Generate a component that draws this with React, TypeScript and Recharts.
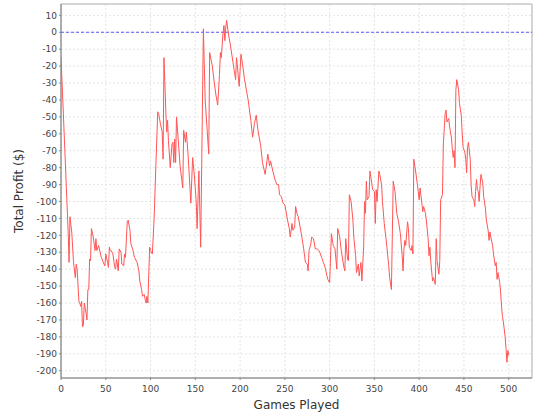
import React from 'react';
import { LineChart, Line, XAxis, YAxis, CartesianGrid, ReferenceLine, ReferenceArea } from 'recharts';

const games = [
  0, 2, 4, 6, 8, 9, 10, 12, 14, 16, 17, 18, 20, 21, 22, 23, 24, 25, 26, 28, 29, 30, 31, 32, 33, 34, 36, 38, 39, 40,
  42, 45, 48, 49, 50, 52, 53, 54, 55, 56, 58, 60, 61, 62, 64, 65, 67, 68, 70, 71, 72, 74, 75, 77, 78, 80, 82, 85, 87, 88,
  90, 91, 93, 94, 95, 96, 97, 99, 100, 102, 104, 106, 108, 109, 111, 113, 114, 115, 117, 118, 119, 120, 122, 124, 125, 126, 127, 128, 129, 131,
  133, 136, 137, 139, 140, 142, 145, 147, 149, 151, 152, 154, 156, 159, 161, 165, 166, 169, 171, 173, 175, 177, 178, 179, 181, 182, 183, 184, 185, 187,
  189, 191, 193, 195, 196, 197, 199, 201, 203, 205, 209, 212, 214, 216, 218, 220, 223, 225, 228, 230, 231, 233, 234, 237, 239, 241, 243, 244, 246, 248,
  250, 251, 253, 255, 256, 258, 259, 261, 262, 264, 265, 267, 269, 271, 273, 275, 276, 277, 279, 280, 282, 284, 286, 288, 289, 291, 293, 295, 297, 298,
  300, 302, 304, 306, 308, 309, 311, 313, 316, 317, 318, 320, 321, 322, 324, 326, 327, 329, 330, 332, 333, 335, 336, 338, 339, 340, 341, 342, 344, 345,
  347, 348, 350, 351, 352, 353, 355, 356, 358, 359, 361, 364, 366, 367, 369, 371, 373, 375, 377, 379, 381, 382, 383, 384, 385, 387, 388, 389, 391, 392,
  393, 394, 396, 398, 400, 401, 403, 404, 405, 407, 408, 410, 411, 412, 413, 415, 416, 418, 419, 420, 422, 423, 424, 426, 427, 429, 430, 431, 433, 434,
  436, 437, 438, 439, 440, 441, 442, 444, 445, 447, 448, 449, 451, 452, 453, 454, 455, 457, 458, 459, 461, 462, 463, 464, 465, 466, 467, 468, 469, 471,
  472, 474, 475, 477, 478, 479, 480, 482, 483, 485, 486, 487, 488, 490, 491, 492, 493, 494, 496, 497, 498, 499, 500,
];

// total profit ($) at those games
const profit = [
  -15, -40, -66, -92, -118, -136, -109, -118, -136, -145, -137, -140, -159, -160, -162, -159, -174, -173, -160, -166, -170, -152, -152, -134, -135, -116, -121, -129, -122, -129,
  -126, -133, -137, -138, -131, -136, -139, -127, -129, -129, -131, -139, -140, -134, -141, -128, -130, -137, -138, -131, -133, -112, -111, -117, -125, -128, -133, -136, -141, -147,
  -152, -156, -155, -158, -160, -156, -160, -127, -129, -131, -110, -78, -47, -48, -54, -59, -75, -15, -46, -59, -52, -64, -80, -66, -65, -77, -63, -77, -50, -64,
  -79, -92, -58, -65, -59, -73, -101, -74, -85, -100, -116, -82, -127, 2, -40, -72, -12, -20, -29, -37, -43, -25, -12, -15, 0, 4, -5, 3, 7, -1,
  -7, -14, -21, -28, -15, -20, -32, -13, -20, -28, -40, -52, -62, -54, -49, -58, -67, -77, -84, -76, -72, -79, -76, -83, -87, -90, -90, -96, -97, -101,
  -102, -105, -111, -116, -121, -113, -117, -115, -103, -108, -109, -115, -121, -128, -136, -137, -141, -129, -125, -121, -122, -128, -128, -129, -130, -133, -136, -139, -144, -146,
  -148, -119, -126, -128, -140, -116, -120, -129, -139, -141, -122, -134, -135, -96, -100, -111, -121, -132, -142, -137, -144, -136, -147, -127, -100, -107, -88, -99, -97, -82,
  -89, -93, -94, -113, -93, -100, -82, -84, -90, -100, -113, -127, -138, -145, -152, -88, -94, -107, -112, -119, -132, -141, -128, -123, -126, -112, -116, -127, -129, -126,
  -131, -75, -82, -90, -99, -92, -101, -106, -103, -107, -111, -122, -132, -127, -136, -147, -145, -149, -122, -135, -143, -135, -99, -96, -66, -48, -46, -53, -51, -56,
  -62, -69, -74, -70, -80, -34, -28, -34, -42, -49, -59, -68, -71, -75, -83, -68, -65, -75, -90, -97, -99, -103, -94, -87, -93, -94, -100, -91, -84, -89,
  -97, -104, -111, -117, -123, -118, -121, -126, -131, -138, -136, -146, -142, -148, -154, -162, -168, -171, -180, -187, -195, -188, -191,
];

const xTicks = [0, 50, 100, 150, 200, 250, 300, 350, 400, 450, 500];
const yTicks = [10, 0, -10, -20, -30, -40, -50, -60, -70, -80, -90, -100, -110, -120, -130, -140, -150, -160, -170, -180, -190, -200];

const xDomain: [number, number] = [0, 526];
const yDomain: [number, number] = [-204.3, 16.7];

const chartData = games.map((g, i) => ({ game: g, profit: profit[i] }));

const tickStyle = { fontFamily: 'DejaVu Sans', fontSize: 9, fill: '#444' };

const XLabel = (props: any) => {
  const { viewBox } = props;
  return (
    <text x={viewBox.x + viewBox.width / 2} y={viewBox.y + 31} textAnchor="middle"
      fontFamily="DejaVu Sans" fontSize={12} fill="#333">Games Played</text>
  );
};

const YLabel = (props: any) => {
  const { viewBox } = props;
  const cx = 23;
  const cy = viewBox.y + viewBox.height / 2;
  return (
    <text x={cx} y={cy} transform={`rotate(-90 ${cx} ${cy})`} textAnchor="middle"
      fontFamily="DejaVu Sans" fontSize={12} fill="#333">Total Profit ($)</text>
  );
};

export default function App() {
  return (
    <div style={{ position: 'absolute', left: 0, top: 0, background: '#fff' }}>
      <LineChart width={540} height={420} data={chartData} margin={{ top: 4, right: 8, left: 0, bottom: 0 }}>
        <CartesianGrid stroke="#e4e4e4" strokeDasharray="2 2" horizontalValues={yTicks} verticalValues={xTicks} />
        <XAxis dataKey="game" type="number" domain={xDomain} ticks={xTicks} interval={0} allowDataOverflow
          height={42} tickSize={2} tickMargin={6} tick={tickStyle}
          stroke="#888" tickLine={{ stroke: '#888' }} label={{ content: XLabel }} />
        <YAxis type="number" domain={yDomain} ticks={yTicks} interval={0} allowDataOverflow
          width={61} tickSize={2} tickMargin={2} tick={tickStyle}
          stroke="#888" tickLine={{ stroke: '#888' }} label={{ content: YLabel }} />
        <ReferenceArea x1={xDomain[0]} x2={xDomain[1]} y1={yDomain[0]} y2={yDomain[1]} fill="none" stroke="#aaa" ifOverflow="visible" />
        <ReferenceLine y={0} stroke="#5b5bff" strokeDasharray="3 2" />
        <Line type="linear" dataKey="profit" stroke="#ff5555" strokeWidth={1} dot={false} isAnimationActive={false} />
      </LineChart>
    </div>
  );
}
